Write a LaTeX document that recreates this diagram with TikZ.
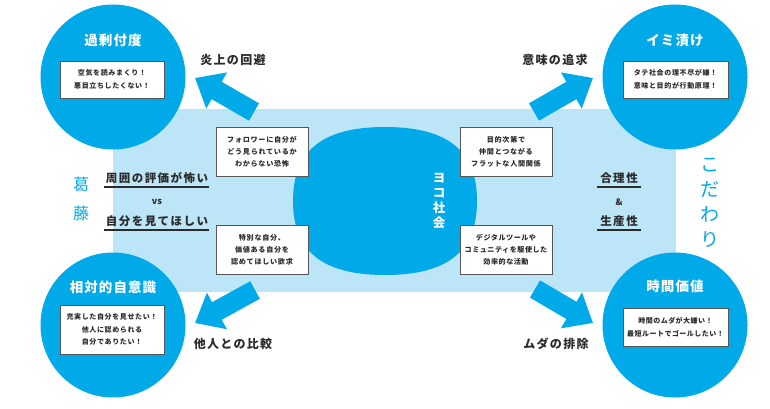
\documentclass[tikz,border=0pt]{standalone}
\usepackage{fontspec}
\setmainfont{Noto Sans CJK JP}
\usetikzlibrary{arrows.meta}
\definecolor{cblue}{HTML}{00A9E8}
\definecolor{lblue}{HTML}{BDE5F8}
\definecolor{ink}{HTML}{2B2B2B}
\definecolor{boxline}{HTML}{555555}
\tikzset{
  bigcirc/.style={circle, fill=cblue, minimum size=145pt, inner sep=0pt},
  ctitle/.style={text=white, inner sep=0pt, font=\fontsize{13.5}{15}\selectfont\bfseries\addfontfeature{LetterSpace=8}},
  cbox/.style={draw=boxline, line width=0.9pt, fill=white, inner sep=0pt, align=center, text=ink,
    font=\fontsize{7}{13}\selectfont\bfseries\addfontfeature{LetterSpace=9}},
  mbox/.style={draw=boxline, line width=0.9pt, fill=white, inner sep=0pt, align=center, text=ink,
    minimum width=92pt, minimum height=49pt,
    font=\fontsize{7.1}{12}\selectfont\bfseries\addfontfeature{LetterSpace=10}},
  alabel/.style={text=ink, inner sep=0pt, font=\fontsize{12}{14}\selectfont\bfseries\addfontfeature{LetterSpace=11}},
  slabel/.style={text=ink, inner sep=0pt, font=\fontsize{11.5}{14}\selectfont\bfseries\addfontfeature{LetterSpace=13}},
  vsl/.style={text=ink, inner sep=0pt, font=\fontsize{9}{10}\selectfont\bfseries},
  uline/.style={draw=ink, line width=1.4pt},
  bigarrow/.style={draw=cblue, line width=20pt, -{Triangle[width=40pt,length=25pt]}},
  vtext/.style={inner sep=0pt, align=center},
}
\begin{document}
\begin{tikzpicture}[x=1pt,y=-1pt]
\useasboundingbox (0,0) rectangle (770,409);
% background band
\fill[lblue] (113,109) rectangle (676,292);
% central blob
\fill[cblue] (477,201) .. controls (477,151) and (448,127) .. (385,127)
  .. controls (322,127) and (293,151) .. (293,201)
  .. controls (293,251) and (322,275) .. (385,275)
  .. controls (448,275) and (477,251) .. (477,201) -- cycle;
\node[vtext, text=white, font=\fontsize{12.5}{15}\selectfont\bfseries] (yoko) at (439,201) {ヨ\\コ\\社\\会};

% arrows
\coordinate (a1s) at (254,112); \coordinate (a1e) at (195,78);
\coordinate (a2s) at (534,112); \coordinate (a2e) at (593,78);
\coordinate (a3s) at (255,290); \coordinate (a3e) at (195,323);
\coordinate (a4s) at (535,289); \coordinate (a4e) at (593,323);
\draw[bigarrow] (a1s) -- (a1e);
\draw[bigarrow] (a2s) -- (a2e);
\draw[bigarrow] (a3s) -- (a3e);
\draw[bigarrow] (a4s) -- (a4e);

% circles
\node[bigcirc] (ctl) at (113,77) {};
\node[bigcirc] (ctr) at (675,77) {};
\node[bigcirc] (cbl) at (113,325) {};
\node[bigcirc] (cbr) at (675,325) {};

\node[ctitle] (ttl) at (113,40) {過剰付度};
\node[ctitle] (ttr) at (675,40) {イミ漬け};
\node[ctitle] (tbl) at (113,287) {相対的自意識};
\node[ctitle] (tbr) at (675,286) {時間価値};

\node[cbox, minimum width=104pt, minimum height=37pt] (btl) at (112,79.5) {空気を読みまくり！\\悪目立ちしたくない！};
\node[cbox, minimum width=105pt, minimum height=37pt] (btr) at (675.5,79.5) {タテ社会の理不尽が嫌！\\意味と目的が行動原理！};
\node[cbox, minimum width=104pt, minimum height=49pt, font=\fontsize{7}{12.5}\selectfont\bfseries\addfontfeature{LetterSpace=9}] (bbl) at (112,329.5) {充実した自分を見せたい！\\他人に認められる\\自分でありたい！};
\node[cbox, minimum width=105pt, minimum height=38pt, font=\fontsize{7}{13}\selectfont\bfseries\addfontfeature{LetterSpace=7}] (bbr) at (675.5,327) {時間のムダが大嫌い！\\最短ルートでゴールしたい！};

% middle boxes
\node[mbox] (m1) at (262,151.5) {フォロワーに自分が\\どう見られているか\\わからない恐怖};
\node[mbox] (m2) at (262,249.5) {特別な自分、\\価値ある自分を\\認めてほしい欲求};
\node[mbox] (m3) at (506,151.5) {目的次第で\\仲間とつながる\\フラットな人間関係};
\node[mbox, font=\fontsize{7.1}{12}\selectfont\bfseries\addfontfeature{LetterSpace=7}] (m4) at (506,249.5) {デジタルツールや\\コミュニティを駆使した\\効率的な活動};

% arrow labels
\node[alabel] (l1) at (233,60) {炎上の回避};
\node[alabel] (l2) at (555,60) {意味の追求};
\node[alabel] (l3) at (233,344) {他人との比較};
\node[alabel] (l4) at (556,344) {ムダの排除};

% left side
\node[slabel] (s1) at (157,178) {周囲の評価が怖い};
\node[vsl] (vs) at (157,202) {vs};
\node[slabel] (s2) at (157,221) {自分を見てほしい};
\coordinate (u1a) at (104,187); \coordinate (u1b) at (209,187);
\coordinate (u2a) at (104,230); \coordinate (u2b) at (209,230);
\draw[uline] (u1a) -- (u1b);
\draw[uline] (u2a) -- (u2b);

% right side
\node[slabel] (r1) at (619,178) {合理性};
\node[vsl] (amp) at (619,202) {\&};
\node[slabel] (r2) at (619,221) {生産性};
\coordinate (u3a) at (597,187); \coordinate (u3b) at (641,187);
\coordinate (u4a) at (597,230); \coordinate (u4b) at (641,230);
\draw[uline] (u3a) -- (u3b);
\draw[uline] (u4a) -- (u4b);

% vertical words
\node[vtext, text=cblue, font=\fontsize{16}{29}\selectfont] (kat) at (81,199) {葛\\藤};
\node[vtext, text=cblue, font=\fontsize{19}{25}\selectfont] (kod) at (710,203) {こ\\だ\\わ\\り};
\end{tikzpicture}
\end{document}
